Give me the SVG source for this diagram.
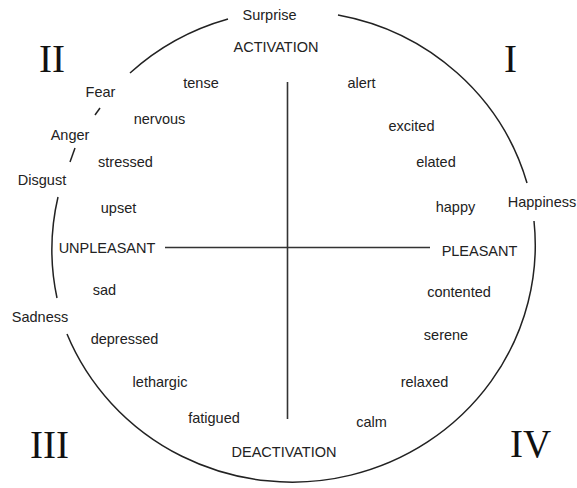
<svg xmlns="http://www.w3.org/2000/svg" width="577" height="488" viewBox="0 0 577 488">
<style>
.lbl{font-family:"Liberation Sans",Arial,sans-serif;font-size:14.5px;fill:#222;text-anchor:middle}
.num{font-family:"Liberation Serif","Times New Roman",serif;font-size:39px;fill:#111;text-anchor:middle}
.arc{fill:none;stroke:#222;stroke-width:1.5}
.axis{fill:none;stroke:#333;stroke-width:1.6}
</style>
<rect width="577" height="488" fill="#fff"/>
<g id="connectors">
<path class="arc" d="M228,19 A243,237 0 0 0 130,73"/>
<path class="arc" d="M95,115 L100,108"/>
<path class="arc" d="M70,162 L75,148"/>
<path class="arc" d="M58,197 A243,237 0 0 0 57,298"/>
<path class="arc" d="M67,334 A243,237 0 0 0 534,221"/>
<path class="arc" d="M338,15 A243,237 0 0 1 527,183"/>
<path class="axis" d="M287.5,82 V419"/>
<path class="axis" d="M165,247.5 H430"/>
</g>
<g id="numerals">
<text class="num" x="510.5" y="72">I</text>
<text class="num" x="52" y="72">II</text>
<text class="num" x="49.5" y="458">III</text>
<text class="num" x="530.5" y="457">IV</text>
</g>
<g id="surprise"><text class="lbl" x="269.5" y="20">Surprise</text></g>
<g id="activation"><text class="lbl" x="276" y="52">ACTIVATION</text></g>
<g id="tense"><text class="lbl" x="201" y="88">tense</text></g>
<g id="alert"><text class="lbl" x="361.5" y="88">alert</text></g>
<g id="fear"><text class="lbl" x="100.5" y="97">Fear</text></g>
<g id="nervous"><text class="lbl" x="159.5" y="124">nervous</text></g>
<g id="excited"><text class="lbl" x="411.5" y="131">excited</text></g>
<g id="anger"><text class="lbl" x="70" y="140">Anger</text></g>
<g id="stressed"><text class="lbl" x="125.5" y="167">stressed</text></g>
<g id="elated"><text class="lbl" x="436" y="167">elated</text></g>
<g id="disgust"><text class="lbl" x="42" y="185">Disgust</text></g>
<g id="happiness"><text class="lbl" x="542" y="207">Happiness</text></g>
<g id="upset"><text class="lbl" x="118.5" y="213">upset</text></g>
<g id="happy"><text class="lbl" x="455.5" y="212">happy</text></g>
<g id="unpleasant"><text class="lbl" x="107" y="253">UNPLEASANT</text></g>
<g id="pleasant"><text class="lbl" x="479.5" y="256">PLEASANT</text></g>
<g id="sad"><text class="lbl" x="104.5" y="295">sad</text></g>
<g id="contented"><text class="lbl" x="459" y="297">contented</text></g>
<g id="sadness"><text class="lbl" x="40" y="322">Sadness</text></g>
<g id="serene"><text class="lbl" x="446" y="340">serene</text></g>
<g id="depressed"><text class="lbl" x="124.5" y="344">depressed</text></g>
<g id="lethargic"><text class="lbl" x="160" y="387">lethargic</text></g>
<g id="relaxed"><text class="lbl" x="424.5" y="387">relaxed</text></g>
<g id="fatigued"><text class="lbl" x="214" y="423">fatigued</text></g>
<g id="calm"><text class="lbl" x="371.5" y="427">calm</text></g>
<g id="deactivation"><text class="lbl" x="284" y="457">DEACTIVATION</text></g>
</svg>
